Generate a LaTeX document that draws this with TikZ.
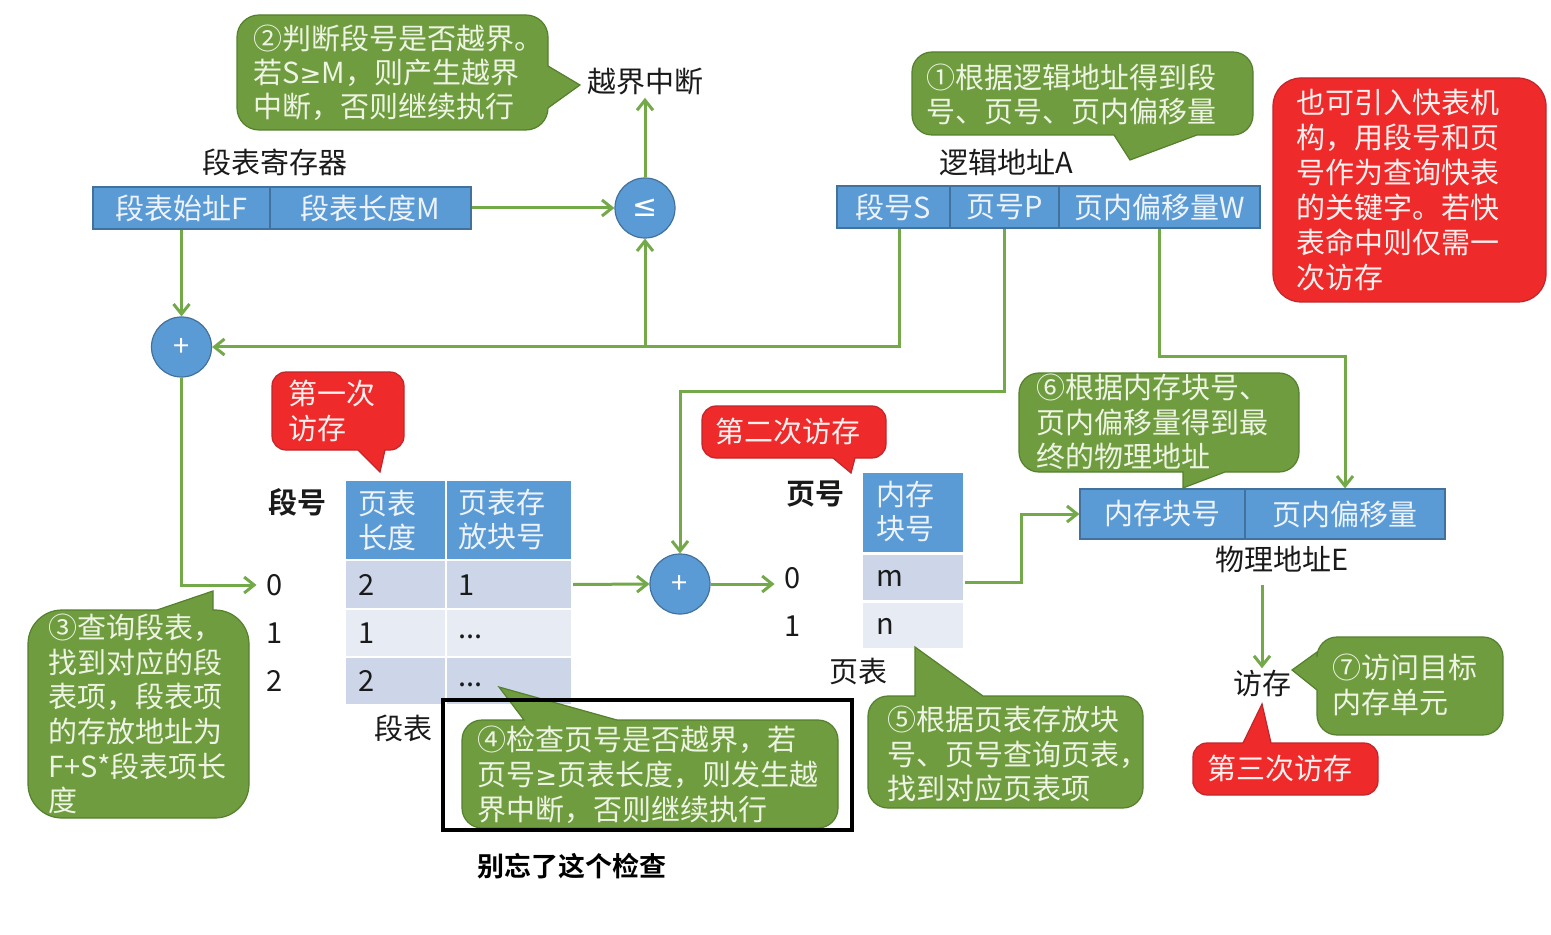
\documentclass[tikz,border=0pt]{standalone}
\usepackage{fontspec}
\setmainfont{Noto Sans CJK SC}[BoldFont={Noto Sans CJK SC Bold}]
\newfontfamily\symf{DejaVu Sans}
\usetikzlibrary{arrows.meta,calc}
\definecolor{gfill}{HTML}{6F9C3F}
\definecolor{gdraw}{HTML}{55802E}
\definecolor{gtext}{HTML}{EEF4E4}
\definecolor{rfill}{HTML}{EE2A2A}
\definecolor{rdraw}{HTML}{C0262B}
\definecolor{rtext}{HTML}{FFF0F0}
\definecolor{bfill}{HTML}{5B9BD5}
\definecolor{bdraw}{HTML}{41719C}
\definecolor{btext}{HTML}{EEF3FA}
\definecolor{lgreen}{HTML}{74A94A}
\definecolor{rowd}{HTML}{CDD6E8}
\definecolor{rowl}{HTML}{E7EBF3}
\definecolor{ink}{HTML}{1A1A1A}
\def\px{0.5pt}
\newcommand\mygeq{{\symf\fontsize{13}{17}\selectfont ≥}}
\begin{document}
\begin{tikzpicture}[x=0.5pt,y=-0.5pt,
  font=\fontsize{14.5}{17.3}\selectfont,
  conn/.style={draw=lgreen,line width=1.5pt,-{Straight Barb[length=5pt,width=8pt]}},
  gcall/.style={fill=gfill,draw=gdraw,line width=0.6pt},
  rcall/.style={fill=rfill,draw=rdraw,line width=0.6pt},
  gtxt/.style={text=gtext,align=left,anchor=west,inner sep=0pt},
  rtxt/.style={text=rtext,align=left,anchor=west,inner sep=0pt},
  bcell/.style={fill=bfill,draw=bdraw,line width=0.6pt,text=btext,inner sep=0pt},
  hcell/.style={fill=bfill,draw=white,line width=1.2pt,inner sep=0pt},
  dcell/.style={fill=rowd,draw=white,line width=1.2pt,inner sep=0pt},
  lcell/.style={fill=rowl,draw=white,line width=1.2pt,inner sep=0pt},
  htxt/.style={text=btext,align=left,anchor=west,inner sep=0pt},
  ctxt/.style={text=ink,anchor=west,inner sep=0pt},
  lbl/.style={text=ink,inner sep=1pt},
  rlbl/.style={text=ink,inner xsep=5pt,inner ysep=1pt},
  sum/.style={circle,fill=bfill,draw=bdraw,line width=0.6pt,minimum size=60*\px,inner sep=0pt,text=white},
]
\useasboundingbox (0,0) rectangle (1551,935);
\fill[white] (0,0) rectangle (1551,935);

% ---------- register ----------
\node[lbl] (reglbl) at (275,162) {段表寄存器};
\node[bcell,minimum width=177*\px,minimum height=42*\px] (regF) at (181.5,208) {段表始址F};
\node[bcell,minimum width=201*\px,minimum height=42*\px] (regM) at (370.5,208) {段表长度M};
\node[sum] (le) at (645,208) {\symf\fontsize{15}{16}\selectfont ≤};
\node[lbl] (oob) at (645,82) {越界中断};
\node[sum] (plusA) at (181.5,347) {+};

% ---------- logical address ----------
\node[lbl] (lalbl) at (1006,162) {逻辑地址A};
\node[bcell,minimum width=113*\px,minimum height=42*\px] (laS) at (893.5,207) {段号S};
\node[bcell,minimum width=109*\px,minimum height=42*\px] (laP) at (1004.5,207) {页号P};
\node[bcell,minimum width=201*\px,minimum height=42*\px] (laW) at (1159.5,207) {页内偏移量W};

% ---------- segment table ----------
\node[lbl,font=\fontsize{14.5}{17}\selectfont\bfseries] (seglbl) at (297,502) {段号};
\node[hcell,minimum width=101*\px,minimum height=80*\px] (sh1) at (395.5,520) {};
\node[hcell,minimum width=126*\px,minimum height=80*\px] (sh2) at (509,520) {};
\node[dcell,minimum width=101*\px,minimum height=49*\px] (s01) at (395.5,584.5) {};
\node[dcell,minimum width=126*\px,minimum height=49*\px] (s02) at (509,584.5) {};
\node[lcell,minimum width=101*\px,minimum height=48*\px] (s11) at (395.5,633) {};
\node[lcell,minimum width=126*\px,minimum height=48*\px] (s12) at (509,633) {};
\node[dcell,minimum width=101*\px,minimum height=48*\px] (s21) at (395.5,681) {};
\node[dcell,minimum width=126*\px,minimum height=48*\px] (s22) at (509,681) {};
\node[htxt,font=\fontsize{14.5}{17}\selectfont] (sh1t) at (358,520) {页表\\长度};
\node[htxt,font=\fontsize{14.5}{17}\selectfont] (sh2t) at (458,520) {页表存\\放块号};
\node[ctxt] (s01t) at (358,585) {2};
\node[ctxt] (s02t) at (458,585) {1};
\node[ctxt] (s11t) at (358,633) {1};
\node[ctxt] (s12t) at (458,637) {...};
\node[ctxt] (s21t) at (358,681) {2};
\node[ctxt] (s22t) at (458,685) {...};
\node[rlbl] (sr0) at (275,585) {0};
\node[rlbl] (sr1) at (275,633) {1};
\node[rlbl] (sr2) at (275,681) {2};
\node[lbl] (stlbl) at (403,728) {段表};

% ---------- page table ----------
\node[lbl,font=\fontsize{14.5}{17}\selectfont\bfseries] (pglbl) at (815,494) {页号};
\node[hcell,minimum width=102*\px,minimum height=81*\px] (ph) at (913,512.5) {};
\node[dcell,minimum width=102*\px,minimum height=48*\px] (p0) at (913,577.5) {};
\node[lcell,minimum width=102*\px,minimum height=48*\px] (p1) at (913,625.5) {};
\node[htxt,font=\fontsize{14.5}{17}\selectfont] (pht) at (876,512) {内存\\块号};
\node[ctxt] (p0t) at (876,578) {m};
\node[ctxt] (p1t) at (876,626) {n};
\node[rlbl] (pr0) at (793,578) {0};
\node[rlbl] (pr1) at (793,626) {1};
\node[lbl] (ptlbl) at (858,672) {页表};
\node[sum] (plusB) at (680,584) {+};

% ---------- physical address ----------
\node[bcell,minimum width=165*\px,minimum height=50*\px] (pmB) at (1162.5,514) {内存块号};
\node[bcell,minimum width=200*\px,minimum height=50*\px] (pmW) at (1345,514) {页内偏移量};
\node[lbl] (physlbl) at (1282,559) {物理地址E};
\node[lbl] (fangcun) at (1262,684) {访存};

% ---------- connectors ----------
\coordinate (bendP) at (680,391);
\coordinate (bendW) at (1250,357);
\coordinate (eout) at (1262,585);
\draw[conn] (regM.east) -- (le.west);
\draw[conn] (le.north) -- (oob.south);
\draw[conn] (regF.south) -- (plusA.north);
\draw[conn] ([xshift=3pt]laS.south) |- (plusA.east);
\draw[conn] (le.south |- plusA.east) -- (le.south);
\draw[conn] (laP.south) |- (bendP) -- (plusB.north);
\draw[conn] (laW.south) |- (bendW) -| (pmW.north);
\draw[conn] (plusA.south) |- (sr0.west);
\draw[conn] (s02.east) -- (plusB.west);
\draw[conn] (plusB.east) -- (plusB.east -| pr0.west);
\draw[conn] ([yshift=-2.5pt]p0.east) -- ++(56,0) |- (pmB.west);
\draw[conn] (eout) -- (fangcun.north);

% ---------- callouts ----------
% (2)
\path[gcall,rounded corners=11pt] (392,15) -- (548,15) [sharp corners] -- (548,66) -- (580,85) -- (548,108) [rounded corners=11pt] -- (548,130) -- (237,130) -- (237,15) -- cycle;
\node[gtxt,font=\fontsize{14.5}{17}\selectfont] (t2) at (253,73) {②判断段号是否越界。\\若S\mygeq M，则产生越界\\中断，否则继续执行};
% (1)
\path[gcall,rounded corners=10pt] (1080,52) -- (1253,52) -- (1253,135) [sharp corners] -- (1197,135) -- (1130,160) -- (1114,135) [rounded corners=10pt] -- (912,135) -- (912,52) -- cycle;
\node[gtxt,font=\fontsize{14.5}{17}\selectfont] (t1) at (926,94) {①根据逻辑地址得到段\\号、页号、页内偏移量};
% red note
\path[rcall,rounded corners=14pt] (1273,78) rectangle (1546,302);
\node[rtxt,font=\fontsize{14.5}{17.5}\selectfont] (tq) at (1296,190) {也可引入快表机\\构，用段号和页\\号作为查询快表\\的关键字。若快\\表命中则仅需一\\次访存};
% first access
\path[rcall,rounded corners=7pt] (338,372) -- (404,372) -- (404,450) [sharp corners] -- (385,450) -- (380,472) -- (358,450) [rounded corners=7pt] -- (272,450) -- (272,372) -- cycle;
\node[rtxt] (r1t) at (288,411) {第一次\\访存};
% second access
\path[rcall,rounded corners=7pt] (794,406) -- (886,406) -- (886,458) [sharp corners] -- (855,458) -- (851,473) -- (833,458) [rounded corners=7pt] -- (702,458) -- (702,406) -- cycle;
\node[rtxt] (r2t) at (715,431) {第二次访存};
% third access
\path[rcall,rounded corners=7pt] (1193,770) -- (1193,743) [sharp corners] -- (1243,743) -- (1262,704) -- (1271,743) [rounded corners=7pt] -- (1378,743) -- (1378,795) -- (1193,795) -- cycle;
\node[rtxt] (r3t) at (1207,768) {第三次访存};
% (3)
\path[gcall,rounded corners=17pt] (28,714) -- (28,610) [sharp corners] -- (157,610) -- (213,591) -- (213,610) [rounded corners=17pt] -- (249,610) -- (249,818) -- (28,818) -- cycle;
\node[gtxt] (t3) at (48,714) {③查询段表，\\找到对应的段\\表项，段表项\\的存放地址为\\F+S*段表项长\\度};
% (4)
\path[gcall,rounded corners=10pt] (462,775) -- (462,720) [sharp corners] -- (524,720) -- (499,687) -- (617,720) [rounded corners=10pt] -- (838,720) -- (838,828) -- (462,828) -- cycle;
\node[gtxt,font=\fontsize{14.5}{17.5}\selectfont] (t4) at (477,775) {④检查页号是否越界，若\\页号\mygeq 页表长度，则发生越\\界中断，否则继续执行};
% (5)
\path[gcall,rounded corners=10pt] (868,750) -- (868,696) [sharp corners] -- (915,696) -- (915,647) -- (983,696) [rounded corners=10pt] -- (1143,696) -- (1143,808) -- (868,808) -- cycle;
\node[gtxt] (t5) at (887,754) {⑤根据页表存放块\\号、页号查询页表，\\找到对应页表项};
% (6)
\path[gcall,rounded corners=10pt] (1150,373) -- (1299,373) -- (1299,472) [sharp corners] -- (1225,472) -- (1183,488) -- (1183,472) [rounded corners=10pt] -- (1019,472) -- (1019,373) -- cycle;
\node[gtxt] (t6) at (1036,422) {⑥根据内存块号、\\页内偏移量得到最\\终的物理地址};
% (7)
\path[gcall,rounded corners=10pt] (1410,637) -- (1503,637) -- (1503,735) -- (1317,735) [sharp corners] -- (1317,690) -- (1292,670) -- (1317,652) [rounded corners=10pt] -- (1317,637) -- cycle;
\node[gtxt] (t7) at (1332,685) {⑦访问目标\\内存单元};

% ---------- emphasis ----------
\draw[black,line width=2pt] (443,700) rectangle (852,830);
\node[lbl,font=\fontsize{13.5}{16}\selectfont\bfseries,text=black] (note) at (572,866) {别忘了这个检查};
\end{tikzpicture}
\end{document}
